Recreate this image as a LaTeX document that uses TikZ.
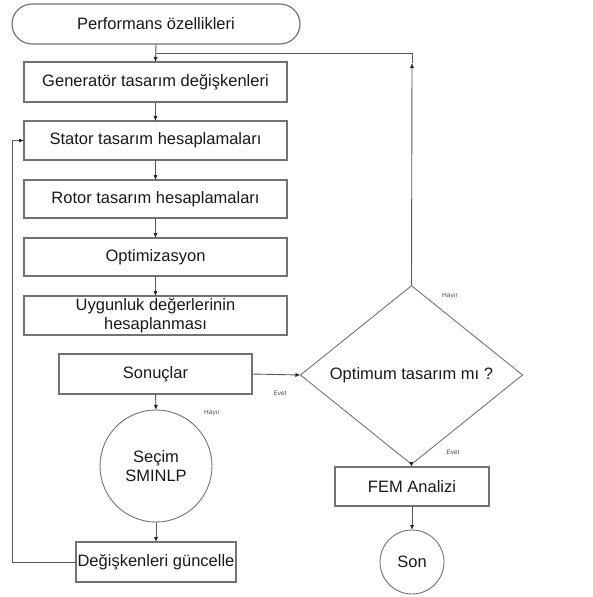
\documentclass[tikz,border=0pt]{standalone}
\usepackage{fontspec}
\setmainfont{Liberation Sans}
\usetikzlibrary{shapes.geometric,arrows.meta}
\begin{document}
\begin{tikzpicture}[x={(1pt,0)},y={(0,-1pt)},
  every node/.style={inner sep=0pt, outer sep=0pt, text=black!90},
  box/.style={draw=black!55, line width=1.2pt, rectangle, font=\fontsize{16.5}{19}\selectfont, align=center},
  circ/.style={draw=black!55, line width=0.9pt, circle, font=\fontsize{16.5}{19}\selectfont, align=center},
  lbl/.style={font=\fontsize{6.5}{7}\selectfont, text=black!70},
  conn/.style={draw=black!65, line width=0.9pt},
  arr/.style={conn, -{Latex[length=5pt,width=4.2pt,color=black!85]}}]
\useasboundingbox (0,0) rectangle (593,597);
% nodes
\node[box, rounded corners=20pt, minimum width=288pt, minimum height=40pt] (perf) at (156,24) {Performans özellikleri};
\node[box, minimum width=263pt, minimum height=40pt] (gen) at (155.5,82) {Generatör tasarım değişkenleri};
\node[box, minimum width=263pt, minimum height=39pt] (stat) at (155.5,140.5) {Stator tasarım hesaplamaları};
\node[box, minimum width=263pt, minimum height=38pt] (rot) at (155.5,199) {Rotor tasarım hesaplamaları};
\node[box, minimum width=263pt, minimum height=38pt] (opt) at (155.5,257) {Optimizasyon};
\node[box, minimum width=263pt, minimum height=39pt] (uyg) at (155.5,315.5) {Uygunluk değerlerinin\\hesaplanması};
\node[box, minimum width=193pt, minimum height=40pt] (son1) at (155.5,374) {Sonuçlar};
\node[circ, minimum size=112pt] (sec) at (156,466) {Seçim\\SMINLP};
\node[box, minimum width=160pt, minimum height=40pt] (deg) at (156,562) {Değişkenleri güncelle};
\node[diamond, draw=black!55, line width=0.9pt, minimum width=222pt, minimum height=136pt, font=\fontsize{16.5}{19}\selectfont] (dia) at (411.5,375) {Optimum tasarım mı ?};
\node[box, minimum width=154pt, minimum height=39pt] (fem) at (412,486.5) {FEM Analizi};
\node[circ, minimum size=64pt] (son) at (412,562) {Son};
% labels
\node[lbl] (h1) at (450,296) {Hayır};
\node[lbl] (e1) at (280,393) {Evet};
\node[lbl] (h2) at (212,413) {Hayır};
\node[lbl] (e2) at (453,452) {Evet};
% coordinates
\coordinate (j1) at (156,53);
\coordinate (j2) at (412,53);
\coordinate (j3) at (412,63);
\coordinate (l1) at (12,562);
\coordinate (l2) at (12,140.5);
% connectors
\draw[arr] (perf.south) -- (gen.north);
\draw[arr] (gen.south) -- (stat.north);
\draw[arr] (stat.south) -- (rot.north);
\draw[arr] (rot.south) -- (opt.north);
\draw[arr] (opt.south) -- (uyg.north);
\draw[arr] (son1.east) -- (dia.west);
\draw[arr] (son1.south) -- (sec.north);
\draw[arr] (sec.south) -- (deg.north);
\draw[arr] (dia.south) -- (fem.north);
\draw[arr] (fem.south) -- (son.north);
\draw[arr] (dia.north) -- (j3);
\draw[conn] (j3) -- (j2) -- (j1);
\draw[arr] (deg.west) -- (l1) -- (l2) -- (stat.west);
\end{tikzpicture}
\end{document}
